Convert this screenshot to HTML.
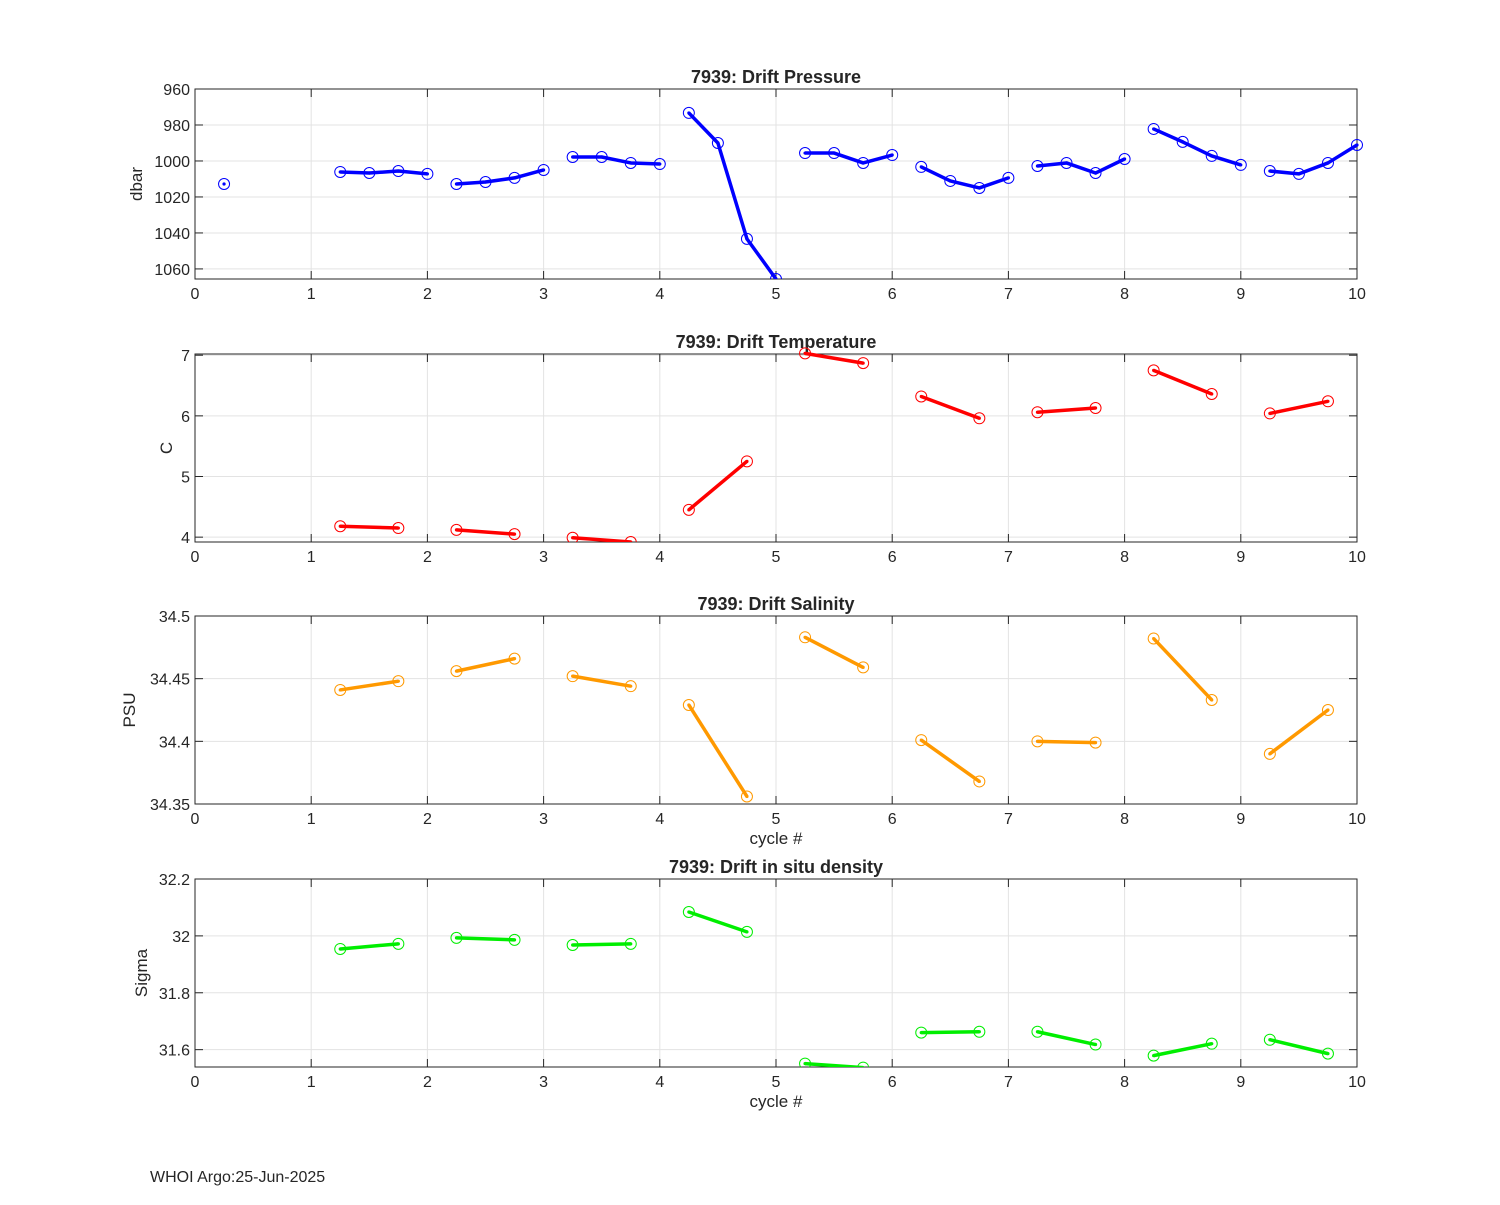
<!DOCTYPE html>
<html><head><meta charset="utf-8"><style>
body{margin:0;background:#fff;}
svg text{font-family:"Liberation Sans","DejaVu Sans",sans-serif;fill:#262626;}
</style></head><body>
<svg id="fig" width="1500" height="1200" xmlns="http://www.w3.org/2000/svg">
<rect width="1500" height="1200" fill="#fff"/>
<text x="150" y="1182" font-size="16">WHOI Argo:25-Jun-2025</text>
</svg>
<script>
const xTicks=[0,1,2,3,4,5,6,7,8,9,10];
const presX=[0.25,1.25,1.5,1.75,2,2.25,2.5,2.75,3,3.25,3.5,3.75,4,4.25,4.5,4.75,5,5.25,5.5,5.75,6,6.25,6.5,6.75,7,7.25,7.5,7.75,8,8.25,8.5,8.75,9,9.25,9.5,9.75,10];
const presY=[1012.8,1006.1,1006.7,1005.6,1007.2,1012.8,1011.7,1009.4,1005,997.8,997.8,1001.1,1001.7,973.3,990,1043.3,1065.6,995.6,995.6,1001.1,996.7,1003.3,1011.1,1015,1009.4,1002.8,1001.1,1006.7,998.9,982.2,989.4,997.2,1002.2,1005.6,1007.2,1001.1,991.1];
const presGroup=[0,1,1,1,1,2,2,2,2,3,3,3,3,4,4,4,4,5,5,5,5,6,6,6,6,7,7,7,7,8,8,8,8,9,9,9,9];
const pairX=[1.25,1.75,2.25,2.75,3.25,3.75,4.25,4.75,5.25,5.75,6.25,6.75,7.25,7.75,8.25,8.75,9.25,9.75];
const pairGroup=[1,1,2,2,3,3,4,4,5,5,6,6,7,7,8,8,9,9];
const tempY=[4.18,4.15,4.12,4.05,3.99,3.92,4.45,5.25,7.03,6.87,6.32,5.96,6.06,6.13,6.75,6.36,6.04,6.24];
const salY=[34.441,34.448,34.456,34.466,34.452,34.444,34.429,34.356,34.483,34.459,34.401,34.368,34.400,34.399,34.482,34.433,34.390,34.425];
const denY=[31.954,31.972,31.993,31.986,31.968,31.972,32.084,32.014,31.551,31.537,31.660,31.663,31.663,31.618,31.579,31.621,31.635,31.586];
const presTicks=[960,980,1000,1020,1040,1060];
const tempTicks=[4,5,6,7];
const salTicks=[34.35,34.4,34.45,34.5];
const salLabels=["34.35","34.4","34.45","34.5"];
const denTicks=[31.6,31.8,32,32.2];
const denLabels=["31.6","31.8","32","32.2"];

const NS="http://www.w3.org/2000/svg";
const svg=document.getElementById('fig');
function mk(tag,attrs,parent){const e=document.createElementNS(NS,tag);for(const k in attrs)e.setAttribute(k,attrs[k]);(parent||svg).appendChild(e);return e;}
const L=195,R=1357;
function xs(v){return L+(v-0)/(10-0)*(R-L);}

function panel(o){
  const g=mk('g',{});
  
  
  const ys=v=> o.rev ? o.top+(v-o.ymin)/(o.ymax-o.ymin)*(o.bot-o.top) : o.bot-(v-o.ymin)/(o.ymax-o.ymin)*(o.bot-o.top);
  // grid
  xTicks.forEach(t=>{const l=mk('line',{x1:xs(t),x2:xs(t),y1:o.top,y2:o.bot,stroke:'#e3e3e3','stroke-width':1},g);
    });
  o.ticks.forEach(t=>{const l=mk('line',{x1:L,x2:R,y1:ys(t),y2:ys(t),stroke:'#e3e3e3','stroke-width':1},g);
    });
  // ticks & labels
  xTicks.forEach(t=>{
    mk('line',{x1:xs(t),x2:xs(t),y1:o.bot,y2:o.bot-8,stroke:'#262626'},g);
    mk('line',{x1:xs(t),x2:xs(t),y1:o.top,y2:o.top+8,stroke:'#262626'},g);
    const tx=mk('text',{x:xs(t),y:o.bot+20,'font-size':16,'text-anchor':'middle'},g);tx.textContent=t;
    
  });
  o.ticks.forEach((t,i)=>{
    mk('line',{x1:L,x2:L+8,y1:ys(t),y2:ys(t),stroke:'#262626'},g);
    mk('line',{x1:R,x2:R-8,y1:ys(t),y2:ys(t),stroke:'#262626'},g);
    const tx=mk('text',{x:L-5,y:ys(t)+6,'font-size':16,'text-anchor':'end'},g);tx.textContent=o.labels?o.labels[i]:t;
    
  });
  const box=mk('rect',{x:L,y:o.top,width:R-L,height:o.bot-o.top,fill:'none',stroke:'#262626','stroke-width':1},g);
  
  const ti=mk('text',{x:(L+R)/2,y:o.top-6,'font-size':18,'font-weight':'bold','text-anchor':'middle',fill:'#000'},g);ti.textContent=o.title;
  
  const yl=mk('text',{x:0,y:0,'font-size':17,'text-anchor':'middle',transform:`translate(${o.ylx},${(o.top+o.bot)/2}) rotate(-90)`},g);yl.textContent=o.ylabel;
  
  if(o.xlabel){const xl=mk('text',{x:(L+R)/2,y:o.bot+40,'font-size':17,'text-anchor':'middle'},g);xl.textContent='cycle #';
    }
  // series
  const clip=mk('clipPath',{id:'c'+o.name},g);mk('rect',{x:L,y:o.top-8,width:R-L+8,height:o.bot-o.top+8},clip);
  const sg=mk('g',{'clip-path':'url(#c'+o.name+')'},g);
  const groups={};
  o.x.forEach((xv,i)=>{(groups[o.grp[i]]=groups[o.grp[i]]||[]).push(i);});
  for(const k in groups){const idx=groups[k];
    if(idx.length>1){const p=mk('polyline',{points:idx.map(i=>xs(o.x[i])+','+ys(o.y[i])).join(' '),fill:'none',stroke:o.color,'stroke-width':3.5,'stroke-linejoin':'round'},sg);
      }
  }
  o.x.forEach((xv,i)=>{
    const c=mk('circle',{cx:xs(xv),cy:ys(o.y[i]),r:5.5,fill:'none',stroke:o.color,'stroke-width':1},sg);
    
    mk('circle',{cx:xs(xv),cy:ys(o.y[i]),r:1.6,fill:o.color},sg);
  });
}
panel({name:'pressure',top:89,bot:279,ymin:960,ymax:1065.6,rev:true,ticks:presTicks,title:'7939: Drift Pressure',ylabel:'dbar',ylx:142,x:presX,y:presY,grp:presGroup,color:'#0000ff'});
panel({name:'temperature',top:354,bot:542,ymin:3.92,ymax:7.02,ticks:tempTicks,title:'7939: Drift Temperature',ylabel:'C',ylx:172,x:pairX,y:tempY,grp:pairGroup,color:'#ff0000'});
panel({name:'salinity',top:616,bot:804,ymin:34.35,ymax:34.5,ticks:salTicks,labels:salLabels,title:'7939: Drift Salinity',ylabel:'PSU',ylx:135,x:pairX,y:salY,grp:pairGroup,color:'#ff9900',xlabel:true});
panel({name:'density',top:879,bot:1067,ymin:31.539,ymax:32.2,ticks:denTicks,labels:denLabels,title:'7939: Drift in situ density',ylabel:'Sigma',ylx:147,x:pairX,y:denY,grp:pairGroup,color:'#00ee00',xlabel:true});
</script>
</body></html>
